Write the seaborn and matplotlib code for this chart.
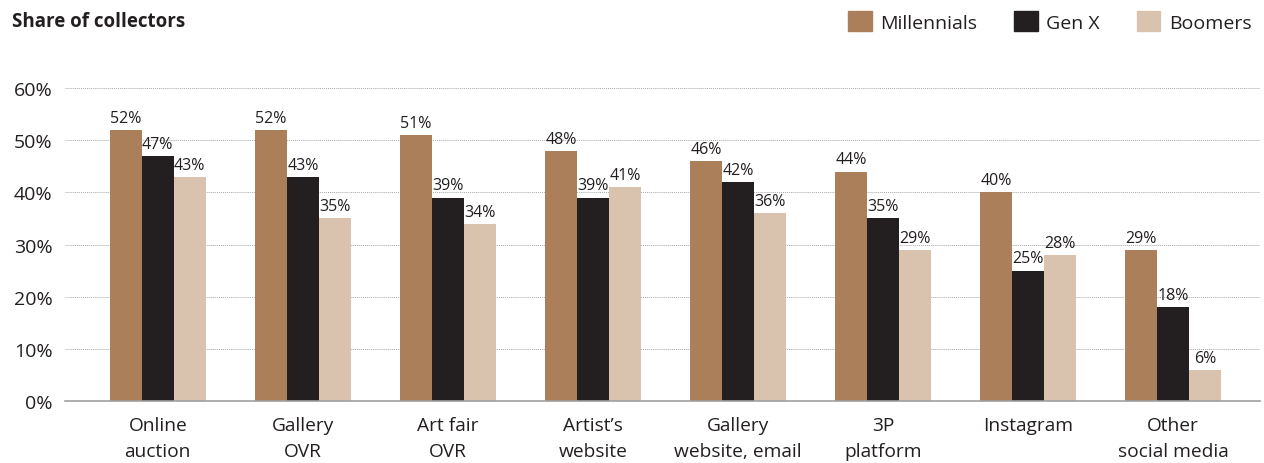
import numpy as np
import pandas as pd
import matplotlib.pyplot as plt
import seaborn as sns

categories = ["Online\nauction", "Gallery\nOVR", "Art fair\nOVR", "Artist’s\nwebsite",
              "Gallery\nwebsite, email", "3P\nplatform", "Instagram", "Other\nsocial media"]
generations = ["Millennials", "Gen X", "Boomers"]
millennials = [52, 52, 51, 48, 46, 44, 40, 29]
gen_x = [47, 43, 39, 39, 42, 35, 25, 18]
boomers = [43, 35, 34, 41, 36, 29, 28, 6]

colors = ["#AA7F5A", "#231F20", "#D9C3AE"]

df = pd.DataFrame({
    "Channel": categories * 3,
    "Generation": np.repeat(generations, len(categories)),
    "Share": millennials + gen_x + boomers,
})

sns.set_style("white")
plt.rcParams["font.family"] = ["Open Sans", "DejaVu Sans"]

fig = plt.figure(figsize=(12.64, 4.64), dpi=100)
ax = fig.add_axes([0.0514, 0.1336, 0.9456, 0.6744])

sns.barplot(data=df, x="Channel", y="Share", hue="Generation", order=categories,
            hue_order=generations, palette=colors, width=0.66, saturation=1,
            linewidth=0, ax=ax, legend=False)

for cont in ax.containers:
    ax.bar_label(cont, labels=[f"{v:.0f}%" for v in cont.datavalues],
                 fontsize=11.5, color="#231F20", padding=3)

ax.set_ylim(0, 60)
ax.set_xlim(-0.64, 7.6)
ax.set_yticks(range(0, 61, 10))
ax.set_yticklabels([f"{t}%" for t in range(0, 61, 10)], fontsize=14, color="#231F20")
ax.tick_params(axis="x", labelsize=13.8, labelcolor="#231F20", length=0, pad=11)
for lbl in ax.get_xticklabels():
    lbl.set_linespacing(1.55)
ax.tick_params(axis="y", length=0, pad=9)
ax.set_xlabel("")
ax.set_ylabel("")
ax.yaxis.grid(True, linestyle=(0, (1, 1)), color="#A8A8A8", linewidth=0.7)
ax.set_axisbelow(True)
for s in ["top", "right", "left"]:
    ax.spines[s].set_visible(False)
ax.spines["bottom"].set_color("#A0A0A0")
ax.spines["bottom"].set_linewidth(1.2)

fig.text(0.0095, 0.952, "Share of collectors", fontsize=13.5, fontweight="bold",
         color="#231F20", va="center", ha="left")

handles = [plt.Rectangle((0, 0), 1, 1, color=c) for c in colors]
fig.legend(handles, generations, loc="center right", bbox_to_anchor=(1.004, 0.952),
           ncol=3, frameon=False, fontsize=14, handlelength=1.2, handleheight=1.2,
           handletextpad=0.45, columnspacing=1.9, labelcolor="#231F20")

fig.savefig("out.png", dpi=100)
